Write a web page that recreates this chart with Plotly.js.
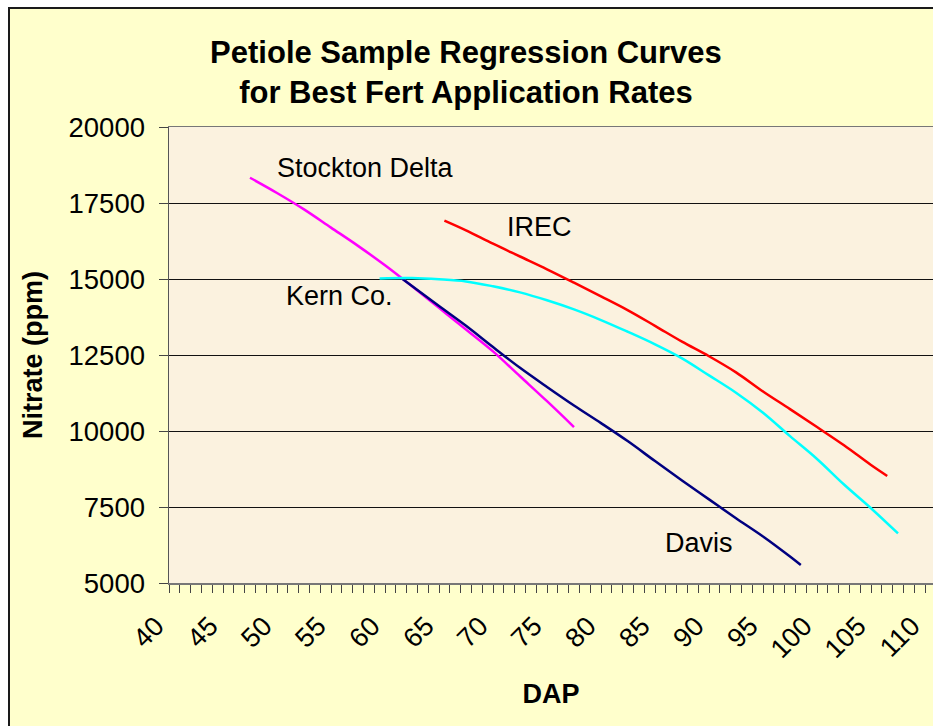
<!DOCTYPE html>
<html>
<head>
<meta charset="utf-8">
<script src="https://cdn.plot.ly/plotly-3.0.1.min.js"></script>
<style>
  html, body { margin: 0; padding: 0; background: #ffffff; width: 933px; height: 726px; overflow: hidden; }
  #frame { position: absolute; left: 8px; top: 7px; border-left: 2px solid #1a1a1a; border-top: 2px solid #1a1a1a; }
  #chart { width: 923px; height: 717px; }
</style>
</head>
<body>
<div id="frame"><div id="chart"></div></div>
<script>
// ---- data ----
const stocktonX = [47.5, 50, 52.5, 55, 57.5, 60, 62.5, 65, 67.5, 70, 72.5, 75, 77.5];
const stocktonY = [18330, 17830, 17290, 16690, 16090, 15450, 14760, 14050, 13340, 12620, 11800, 10980, 10130];

const davisX = [61.5, 65, 67.5, 70, 72.5, 75, 77.5, 80, 82.5, 85, 87.5, 90, 92.5, 95, 97.5, 98.5];
const davisY = [15030, 14110, 13460, 12760, 12080, 11450, 10840, 10260, 9660, 9010, 8370, 7750, 7130, 6530, 5870, 5590];

const kernX = [59.5, 62.5, 65, 67.5, 70, 72.5, 75, 77.5, 80, 82.5, 85, 87.5, 90, 92.5, 95, 97.5, 100, 102.5, 105, 107.5];
const kernY = [15020, 15030, 14990, 14920, 14760, 14560, 14300, 14000, 13650, 13260, 12850, 12390, 11830, 11260, 10600, 9830, 9080, 8240, 7460, 6630];

const irecX = [65.5, 67.5, 70, 72.5, 75, 77.5, 80, 82.5, 85, 87.5, 90, 92.5, 95, 97.5, 100, 102.5, 105, 106.5];
const irecY = [16920, 16600, 16160, 15740, 15320, 14880, 14430, 13970, 13460, 12940, 12460, 11930, 11300, 10720, 10130, 9530, 8880, 8520];

const xTicks = [40, 45, 50, 55, 60, 65, 70, 75, 80, 85, 90, 95, 100, 105, 110];
const yTicks = [5000, 7500, 10000, 12500, 15000, 17500, 20000];

const seriesNames = ["Stockton Delta", "Davis", "Kern Co.", "IREC"];
const labelX = [58.2, 89.1, 55.8, 74.35];
const labelY = [18650, 6316, 14441, 16720];

const titleText = "Petiole Sample Regression Curves<br>for Best Fert Application Rates";
const xTitle = "DAP";
const yTitle = "Nitrate (ppm)";

// ---- chart ----
const font = "Arial, 'Liberation Sans', sans-serif";
const lineW = 2.5;
const traces = [
  { x: stocktonX, y: stocktonY, name: seriesNames[0], line: { color: "#FF00FF" } },
  { x: davisX, y: davisY, name: seriesNames[1], line: { color: "#000080" } },
  { x: kernX, y: kernY, name: seriesNames[2], line: { color: "#00FFFF" } },
  { x: irecX, y: irecY, name: seriesNames[3], line: { color: "#FF0000" } }
].map(t => Object.assign(t, { type: "scatter", mode: "lines", line: Object.assign(t.line, { width: lineW, shape: "spline" }), hoverinfo: "skip" }));

const annotations = seriesNames.map((n, i) => ({
  x: labelX[i], y: labelY[i], xref: "x", yref: "y", text: n, showarrow: false,
  xanchor: "center", yanchor: "middle", font: { family: font, size: 27, color: "#000" }
}));

const layout = {
  width: 923, height: 717,
  paper_bgcolor: "#FFFFCC",
  plot_bgcolor: "#FBF2DF",
  margin: { l: 159, r: 0, t: 118, b: 143, pad: 0 },
  showlegend: false,
  title: {
    text: titleText, xref: "container", yref: "container", x: 0.494, xanchor: "center",
    y: 0.925, yanchor: "top",
    font: { family: font, size: 31, color: "#000", weight: "bold" }
  },
  xaxis: {
    range: [40, 110.74], autorange: false, fixedrange: true,
    tickvals: xTicks, ticktext: xTicks.map(String), tickangle: -45,
    ticks: "outside", ticklen: 8, tickwidth: 1, tickcolor: "#444",
    minor: { dtick: 1, tick0: 40, ticks: "outside", ticklen: 8, tickwidth: 1, tickcolor: "#444", showgrid: false },
    showgrid: false, zeroline: false,
    showline: true, linecolor: "#777", linewidth: 1.5, mirror: true,
    tickfont: { family: font, size: 27, color: "#000" },
    ticklabelstandoff: 7,
    ticklabelshift: -13,
    ticklabeloverflow: "allow",
    automargin: false,
    title: { text: xTitle, font: { family: font, size: 27, color: "#000", weight: "bold" }, standoff: 21 }
  },
  yaxis: {
    range: [5000, 20000], autorange: false, fixedrange: true,
    tickvals: yTicks, ticktext: yTicks.map(String),
    ticks: "outside", ticklen: 9, tickwidth: 1, tickcolor: "#444",
    showgrid: true, gridcolor: "#111", gridwidth: 1,
    zeroline: false, showline: true, linecolor: "#555", linewidth: 1.5,
    tickfont: { family: font, size: 27.5, color: "#000" },
    ticklabelstandoff: 8,
    automargin: false,
    title: { text: yTitle, font: { family: font, size: 27, color: "#000", weight: "bold" }, standoff: 18 }
  },
  annotations: annotations
};

Plotly.newPlot("chart", traces, layout, { displayModeBar: false, staticPlot: true });
</script>
</body>
</html>
